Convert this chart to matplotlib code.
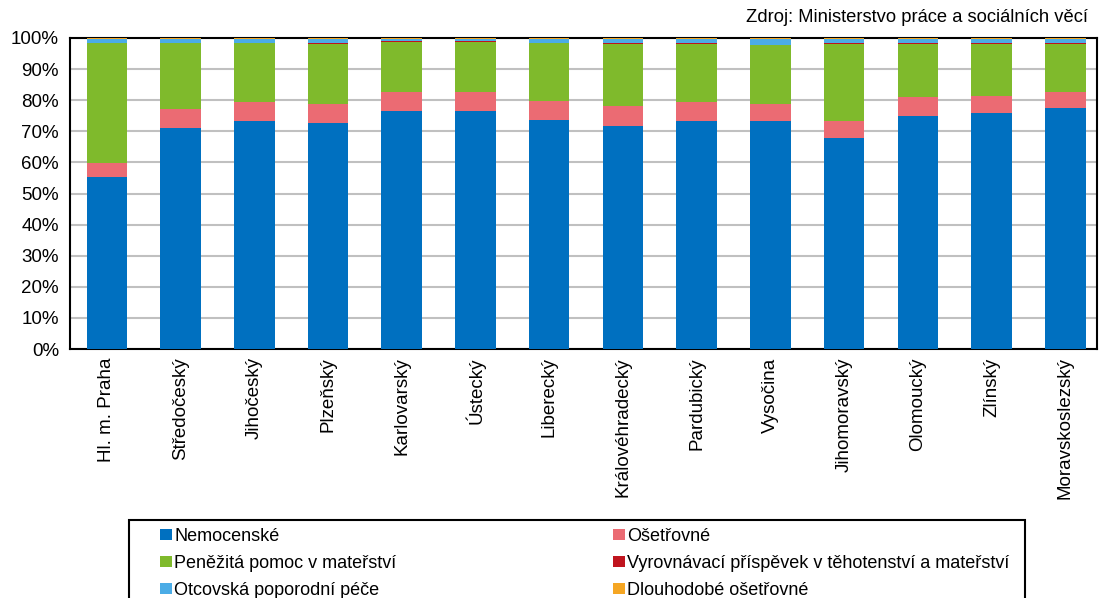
import numpy as np
import matplotlib.pyplot as plt
from matplotlib.patches import Rectangle
from matplotlib.ticker import PercentFormatter

plt.rcParams['font.family'] = ['Liberation Sans', 'DejaVu Sans']

regions = ["Hl. m. Praha", "Středočeský", "Jihočeský", "Plzeňský", "Karlovarský",
           "Ústecký", "Liberecký", "Královéhradecký", "Pardubický", "Vysočina",
           "Jihomoravský", "Olomoucký", "Zlínský", "Moravskoslezský"]

# shares in %
nemocenske = [55.3, 71.1, 73.2, 72.8, 76.6, 76.6, 73.7, 71.6, 73.2, 73.2, 67.8, 74.9, 76.0, 77.6]
osetrovne = [4.5, 6.0, 6.1, 5.9, 6.0, 6.0, 6.1, 6.5, 6.1, 5.5, 5.4, 6.0, 5.5, 4.9]
penezita_pomoc = [38.5, 21.2, 19.0, 19.5, 16.2, 16.2, 18.5, 20.1, 18.9, 19.0, 25.0, 17.3, 16.7, 15.7]
vyrovnavaci = [0.15, 0.15, 0.15, 0.15, 0.15, 0.15, 0.15, 0.15, 0.15, 0.15, 0.15, 0.15, 0.15, 0.15]
otcovska = [1.25, 1.25, 1.25, 1.35, 0.75, 0.75, 1.25, 1.35, 1.35, 1.85, 1.35, 1.35, 1.35, 1.35]
dlouhodobe = [0.3, 0.3, 0.3, 0.3, 0.3, 0.3, 0.3, 0.3, 0.3, 0.3, 0.3, 0.3, 0.3, 0.3]

series = [
    ("Nemocenské", nemocenske, "#0070C0"),
    ("Ošetřovné", osetrovne, "#EB6B73"),
    ("Peněžitá pomoc v mateřství", penezita_pomoc, "#7FBA2C"),
    ("Vyrovnávací příspěvek v těhotenství a mateřství", vyrovnavaci, "#C0141E"),
    ("Otcovská poporodní péče", otcovska, "#4BACE6"),
    ("Dlouhodobé ošetřovné", dlouhodobe, "#F5A623"),
]

W, H = 1099, 598
fig = plt.figure(figsize=(W / 100, H / 100), dpi=100)
ax = fig.add_axes([70 / W, 1 - 349 / H, 1027 / W, 311 / H])

x = np.arange(len(regions))
bottom = np.zeros(len(regions))
handles = []
for name, vals, color in series:
    vals = np.array(vals)
    b = ax.bar(x, vals, 0.55, bottom=bottom, color=color, label=name, zorder=3)
    handles.append(b)
    bottom += vals

ax.set_ylim(0, 100)
ax.set_xlim(-0.5, len(regions) - 0.57)
ax.set_yticks(np.arange(0, 101, 10))
ax.yaxis.set_major_formatter(PercentFormatter(decimals=0))
ax.grid(axis='y', color='#c0c0c0', linewidth=1.5, zorder=0)
ax.set_xticks(x)
ax.set_xticklabels(regions, rotation=90, fontsize=13.5)
ax.tick_params(axis='y', labelsize=13.5, length=0, pad=8)
ax.tick_params(axis='x', length=0, pad=6)
for s in ax.spines.values():
    s.set_color('black')
    s.set_linewidth(1.5)

fig.text(1088 / W, 1 - 18 / H, "Zdroj: Ministerstvo práce a sociálních věcí",
         ha='right', va='center', fontsize=13.2)

# legend box runs off the bottom edge in the original
fig.patches.append(Rectangle((129 / W, -0.1), (1025 - 129) / W, 0.1 + 1 - 520 / H,
                             transform=fig.transFigure, fill=False, edgecolor='black',
                             linewidth=1.5))

# legend fills row by row in the original
order = [0, 2, 4, 1, 3, 5]
leg = fig.legend([handles[i] for i in order], [series[i][0] for i in order],
                 loc='upper left', bbox_to_anchor=(160 / W, 1 - 528 / H),
                 ncol=2, fontsize=13, frameon=False,
                 handlelength=0.67, handleheight=0.5, handletextpad=0.12,
                 labelspacing=0.55, columnspacing=12.0, borderpad=0, borderaxespad=0)

fig.savefig("out.png", dpi=100)
